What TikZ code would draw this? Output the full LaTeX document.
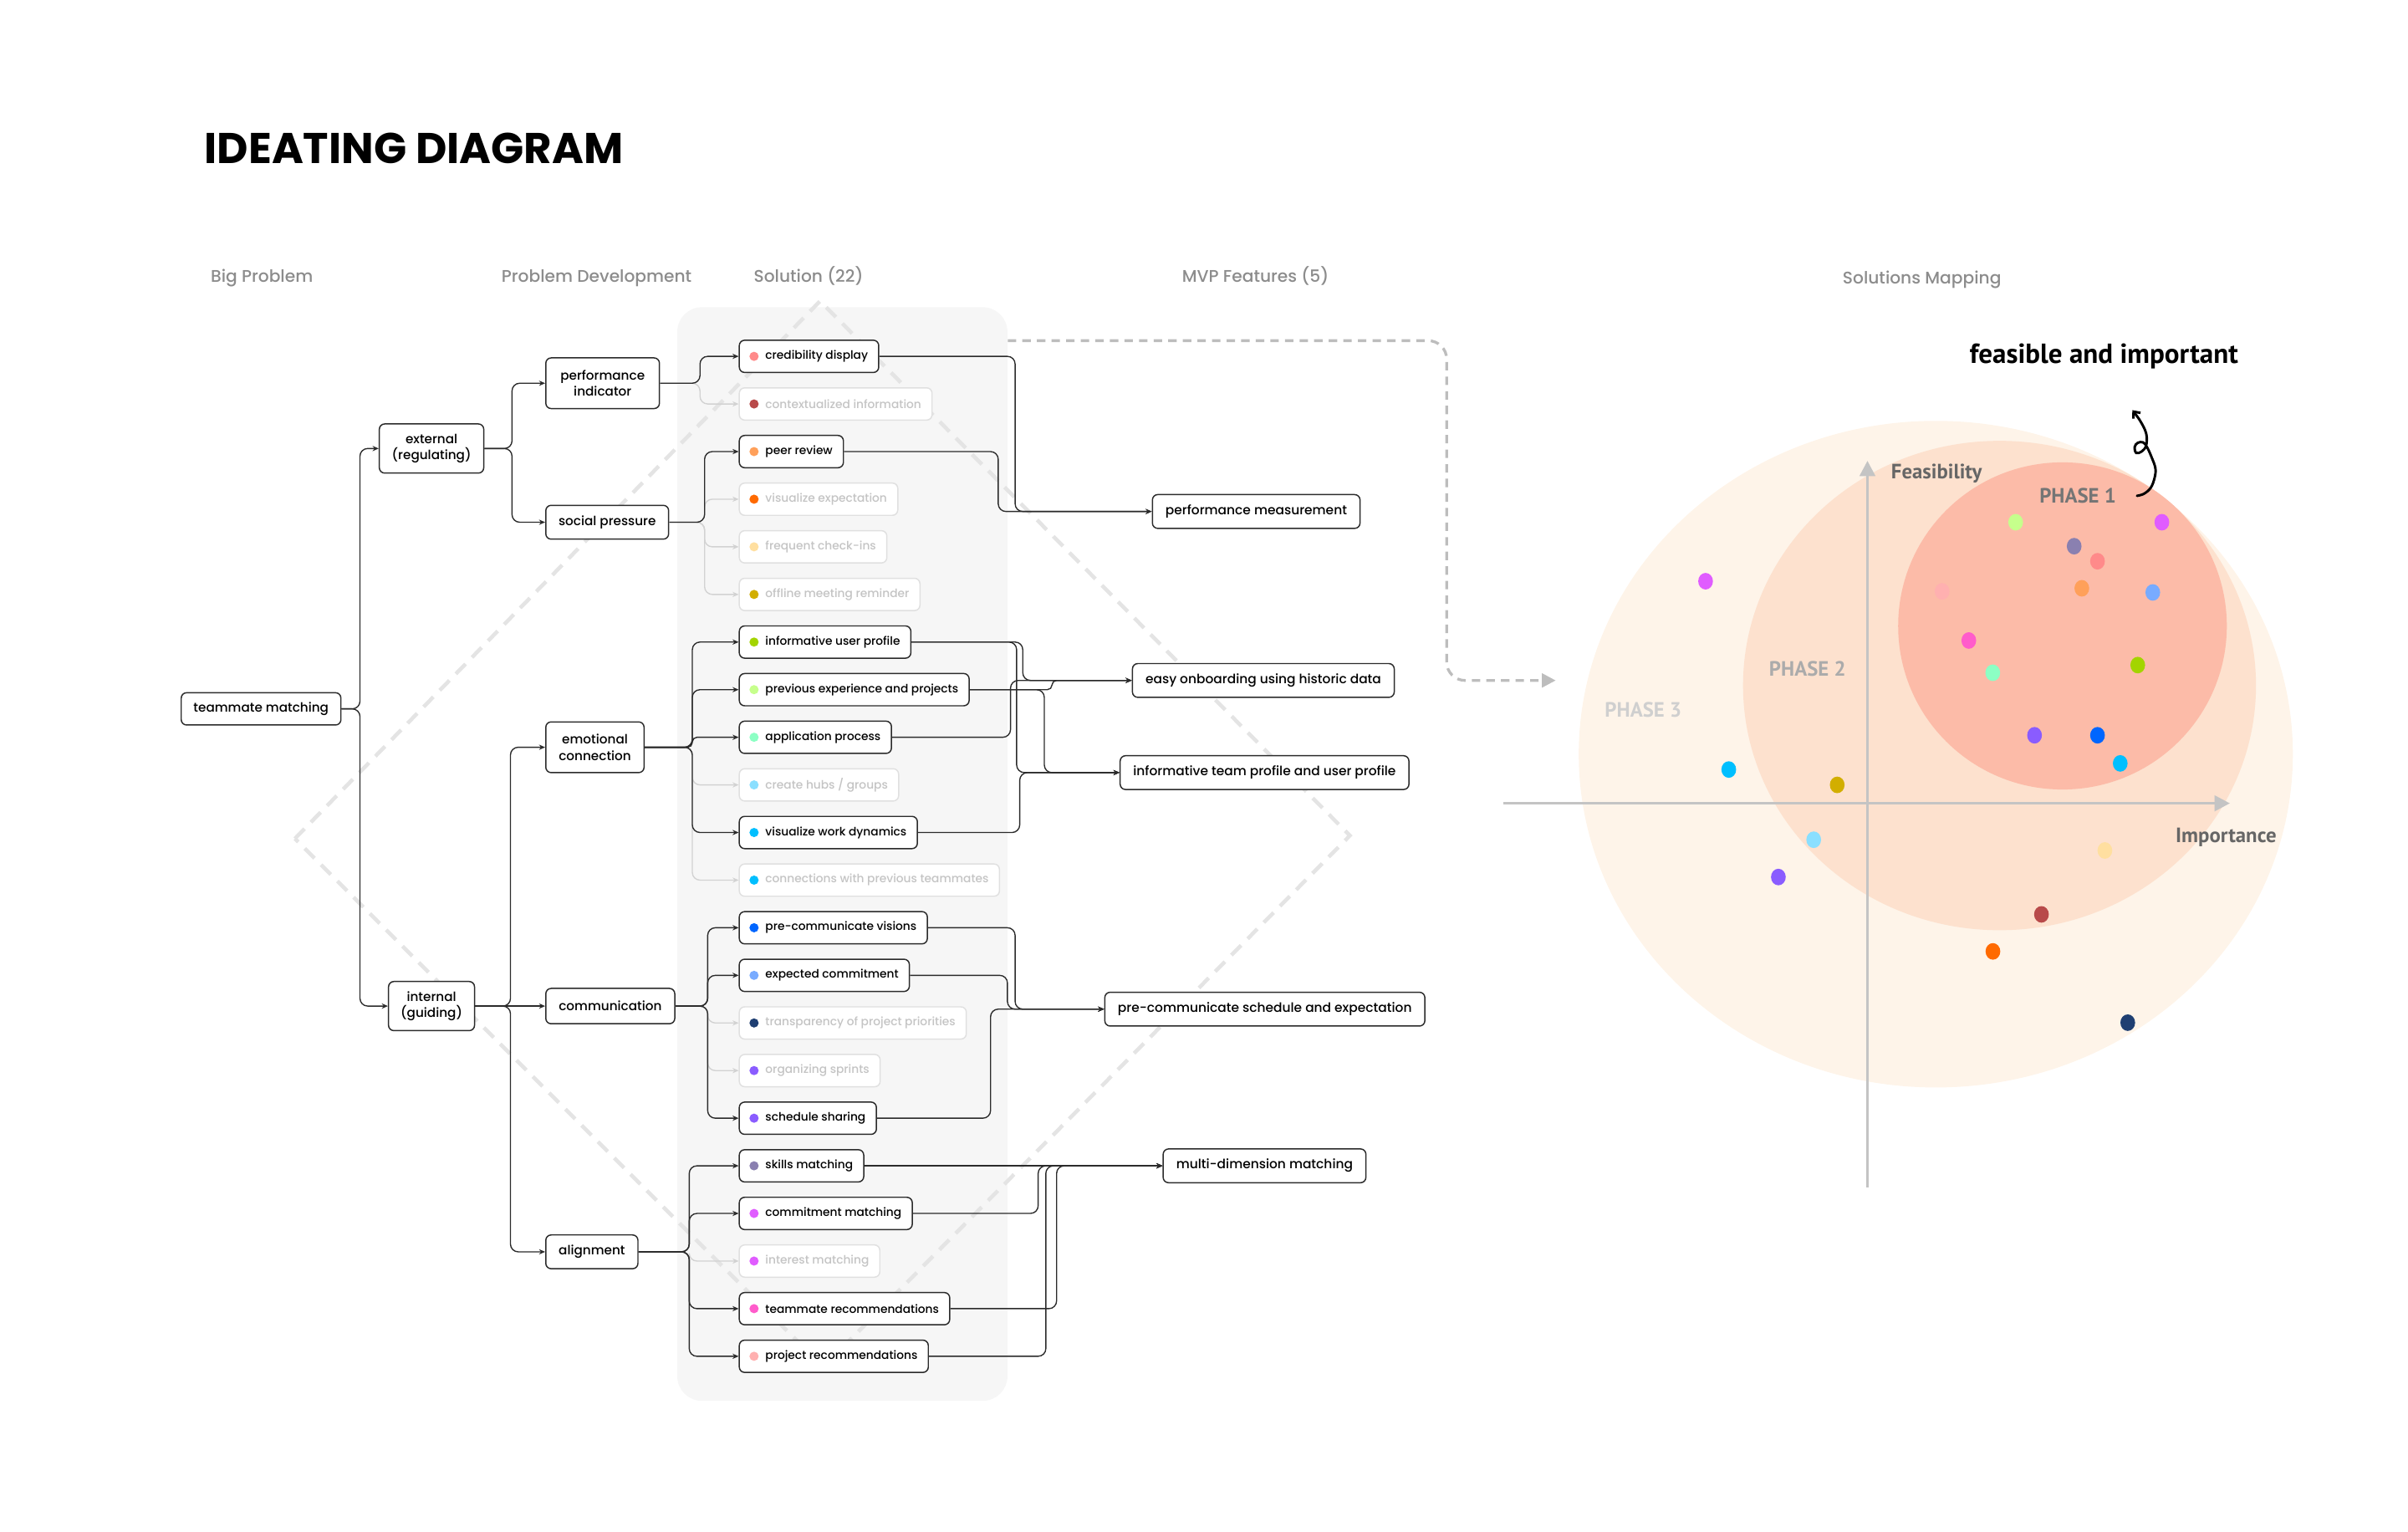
\documentclass[tikz,border=0pt]{standalone}
\usepackage{fontspec}
\setmainfont{Poppins}
\IfFontExistsTF{Poppins Medium}{\newfontfamily\boxfont{Poppins Medium}}{\newfontfamily\boxfont{Poppins}}
\newfontfamily\chartfont{PT Sans}
\usetikzlibrary{arrows.meta}
\definecolor{Ink}{HTML}{2B2B2B}
\definecolor{Head}{HTML}{8C8C8C}
\definecolor{Panel}{HTML}{F6F6F6}
\definecolor{Guide}{HTML}{E4E4E4}
\definecolor{FadeLine}{HTML}{E0E0E0}
\definecolor{FadeText}{HTML}{C4C4C4}
\definecolor{FadeLink}{HTML}{D2D2D2}
\definecolor{Flow}{HTML}{BDBDBD}
\definecolor{Axis}{HTML}{C4C4C4}
\definecolor{AxisText}{HTML}{666666}
\definecolor{PhaseOne}{HTML}{FCBBA8}
\definecolor{PhaseTwo}{HTML}{FDE1CE}
\definecolor{PhaseThree}{HTML}{FEF4E9}
% dot colours
\definecolor{Salmon}{HTML}{FF8A8A}
\definecolor{Brick}{HTML}{B84A4A}
\definecolor{Apricot}{HTML}{FFA05A}
\definecolor{Tangerine}{HTML}{FF6A00}
\definecolor{Cream}{HTML}{FFDFA0}
\definecolor{Mustard}{HTML}{D2AE00}
\definecolor{Lime}{HTML}{A3D400}
\definecolor{Pistachio}{HTML}{C6FF8C}
\definecolor{Mint}{HTML}{8CFFC4}
\definecolor{Sky}{HTML}{8ADFFF}
\definecolor{Cyan}{HTML}{00BFFF}
\definecolor{Azure}{HTML}{0066FF}
\definecolor{Cornflower}{HTML}{78ABFF}
\definecolor{Navy}{HTML}{1F3F72}
\definecolor{Violet}{HTML}{8A5CFF}
\definecolor{Slate}{HTML}{8A80B0}
\definecolor{Orchid}{HTML}{E05CFF}
\definecolor{HotPink}{HTML}{FF5CCB}
\definecolor{Blush}{HTML}{FFB0B0}

\begin{document}
\begin{tikzpicture}[x=1pt,y=-1pt,>={Stealth[length=4pt,width=3.4pt]},
    box/.style={draw=Ink,fill=white,line width=.8pt,rounded corners=3.5pt,inner xsep=4pt,inner ysep=2pt,align=center,font=\boxfont\fontsize{8.3}{10.5}\selectfont},
    sol/.style={box,anchor=west,minimum height=21pt,inner xsep=7pt,font=\boxfont\fontsize{7.5}{9}\selectfont},
    act/.style={draw=Ink,text=black},
    idle/.style={draw=FadeLine,text=FadeText},
    mvp/.style={box,anchor=west,minimum height=22pt,inner xsep=8.5pt,font=\boxfont\fontsize{8.4}{10}\selectfont},
    head/.style={anchor=base,text=Head,font=\boxfont\fontsize{11}{13}\selectfont},
    link/.style={->,draw=Ink,line width=.75pt,rounded corners=5pt},
    flow/.style={-{Triangle[length=9pt,width=9pt]},draw=Flow,line width=1.8pt,dash pattern=on 5.5pt off 4pt,rounded corners=12pt},
    axis/.style={-{Triangle[length=10pt,width=10pt]},draw=Axis,line width=2pt},
    chartlab/.style={inner sep=0pt,font=\chartfont\fontsize{13.5}{15}\selectfont\bfseries}]
  \useasboundingbox (0,0) rectangle (1568,997);

  % solution panel and guide diamond
  \node[fill=Panel,rounded corners=16pt,minimum width=215pt,minimum height=712pt,inner sep=0pt] (pan) at (548.5,556) {};
  \draw[Guide,line width=2.5pt,dash pattern=on 9pt off 6pt] (192,546) -- (534,196) -- (879,544) -- (536,890) -- cycle;

  % solutions mapping
  \fill[PhaseThree] (1260.5,491) ellipse [x radius=232.5pt,y radius=217pt];
  \fill[PhaseTwo] (1302,446.3) ellipse [x radius=167pt,y radius=159.3pt];
  \fill[PhaseOne] (1343,407.5) ellipse [x radius=107pt,y radius=106.5pt];
  \draw[axis] (1216,773) -- (1216,300);
  \draw[axis] (979,523) -- (1452,523);
  \node[chartlab,text=AxisText] (feas) at (1261,308) {Feasibility};
  \node[chartlab,text=AxisText] (impo) at (1449.5,545) {Importance};
  \node[chartlab,text=AxisText!90] (pone) at (1353,322.5) {PHASE 1};
  \node[chartlab,text=black!33] (ptwo) at (1177,435.5) {PHASE 2};
  \node[chartlab,text=black!19] (pthree) at (1070,462) {PHASE 3};
  \node[inner sep=0pt,font=\chartfont\fontsize{18}{20}\selectfont\bfseries] (goal) at (1370,232) {feasible and important};
  \draw[line width=1.6pt,line cap=round,-{Straight Barb[length=3.5pt,width=6pt]}] plot[smooth,tension=.6] coordinates {(1391.5,322.8) (1396,321.5) (1400.5,317.5) (1403,311) (1403.5,304.8) (1401,297.6) (1398.1,291.2) (1395.5,288) (1392,288.3) (1390,291) (1391,294.9) (1394.5,294) (1397.5,290) (1397.5,282.2) (1393.6,274) (1388.5,267)};
  \foreach \x/\y/\col in {1312.5/340/Pistachio,1407.7/340/Orchid,1350.6/355.6/Slate,1365.8/365.4/Salmon,
      1110.6/378.4/Orchid,1264.6/385/Blush,1355.6/383/Apricot,1401.8/385.7/Cornflower,1282/417/HotPink,
      1297.6/438/Mint,1392/433/Lime,1324.8/478.7/Violet,1365.8/478.7/Azure,1380.6/497/Cyan,1125.7/501/Cyan,
      1196.3/511/Mustard,1181/546.7/Sky,1158/571/Violet,1370.6/553.7/Cream,1329.3/595.3/Brick,
      1297.7/619.4/Tangerine,1385.5/665.8/Navy}
    \fill[\col] (\x,\y) ellipse [x radius=4.8pt,y radius=5.4pt];

  % title and column heads
  \node[anchor=west,inner sep=0pt,font=\fontsize{28}{30}\selectfont\bfseries] (title) at (133,96.5) {IDEATING DIAGRAM};
  \node[head] (hbig) at (170.5,184) {Big Problem};
  \node[head] (hdev) at (388.5,184) {Problem Development};
  \node[head] (hsol) at (526.5,184) {Solution (22)};
  \node[head] (hmvp) at (817.5,184) {MVP Features (5)};
  \node[head] (hmap) at (1251.5,185) {Solutions Mapping};

  % problem tree
  \node[box,minimum width=104pt,minimum height=21pt] (tm) at (170,461.5) {teammate matching};
  \node[box,minimum width=68pt,minimum height=32pt] (ext) at (281,292) {external\\(regulating)};
  \node[box,minimum width=56pt,minimum height=32pt] (int) at (281,655) {internal\\(guiding)};
  \node[box,anchor=west,minimum width=74pt,minimum height=33pt] (pi) at (355,249.5) {performance\\indicator};
  \node[box,anchor=west,minimum width=80pt,minimum height=22pt] (sp) at (355,340) {social pressure};
  \node[box,anchor=west,minimum width=64pt,minimum height=33pt] (ec) at (355,486.5) {emotional\\connection};
  \node[box,anchor=west,minimum width=84pt,minimum height=23pt] (cm) at (355,655) {communication};
  \node[box,anchor=west,minimum width=60pt,minimum height=22pt] (al) at (355,815) {alignment};

  % solutions
  \foreach \i/\col/\lab/\st in {
      1/Salmon/credibility display/act,
      2/Brick/contextualized information/idle,
      3/Apricot/peer review/act,
      4/Tangerine/visualize expectation/idle,
      5/Cream/frequent check-ins/idle,
      6/Mustard/offline meeting reminder/idle,
      7/Lime/informative user profile/act,
      8/Pistachio/previous experience and projects/act,
      9/Mint/application process/act,
      10/Sky/{create hubs / groups}/idle,
      11/Cyan/visualize work dynamics/act,
      12/Cyan/connections with previous teammates/idle,
      13/Azure/pre-communicate visions/act,
      14/Cornflower/expected commitment/act,
      15/Navy/transparency of project priorities/idle,
      16/Violet/organizing sprints/idle,
      17/Violet/schedule sharing/act,
      18/Slate/skills matching/act,
      19/Orchid/commitment matching/act,
      20/Orchid/interest matching/idle,
      21/HotPink/teammate recommendations/act,
      22/Blush/project recommendations/act}{
    \pgfmathsetmacro\yy{201+31*\i}
    \node[sol,\st] (s\i) at (481,\yy) {\hspace*{10pt}\lab};
    \fill[\col] ([xshift=10pt]s\i.west) circle (3pt);
  }

  % mvp features
  \node[mvp] (pm) at (750,333) {performance measurement};
  \node[mvp] (eo) at (737,443) {easy onboarding using historic data};
  \node[mvp] (it) at (729,503) {informative team profile and user profile};
  \node[mvp] (ps) at (719,657) {pre-communicate schedule and expectation};
  \node[mvp] (md) at (757,759) {multi-dimension matching};

  % tree links
  \draw[link] (tm.east) -- ++(12,0) |- (ext.west);
  \draw[link] (tm.east) -- ++(12,0) |- (int.west);
  \draw[link] (ext.east) -- ++(18,0) |- (pi.west);
  \draw[link] (ext.east) -- ++(18,0) |- (sp.west);
  \draw[link] (int.east) -- ++(23,0) |- (ec.west);
  \draw[link] (int.east) -- (cm.west);
  \draw[link] (int.east) -- ++(23,0) |- (al.west);

  % problem -> solution links
  \foreach \p/\k/\w in {pi/2/26,sp/4/23,sp/5/23,sp/6/23,ec/10/31,ec/12/31,cm/15/21,cm/16/21,al/20/33}
    \draw[link,FadeLink] (\p.east) -- ++(\w,0) |- (s\k.west);
  \foreach \p/\k/\w in {pi/1/26,sp/3/23,ec/7/31,ec/8/31,ec/11/31,cm/13/21,cm/14/21,cm/17/21,al/18/33,al/19/33,al/21/33,al/22/33}
    \draw[link] (\p.east) -- ++(\w,0) |- (s\k.west);
  \draw[link,rounded corners=3pt] (ec.east) -- ++(31,0) |- (s9.west);

  % solution -> mvp links
  \draw[link] (s1.east) -| ([xshift=-89pt]pm.west) -- (pm.west);
  \draw[link] (s3.east) -| ([xshift=-100pt]pm.west) -- (pm.west);
  \draw[link] (s7.east) -| ([xshift=-71pt]eo.west) -- (eo.west);
  \draw[link,rounded corners=3pt] (s8.east) -| ([xshift=-52pt]eo.west) -- (eo.west);
  \draw[link] (s9.east) -| ([xshift=-79pt]eo.west) -- (eo.west);
  \draw[link] (s7.east) -| ([xshift=-67pt]it.west) -- (it.west);
  \draw[link] (s8.east) -| ([xshift=-49pt]it.west) -- (it.west);
  \draw[link] (s11.east) -| ([xshift=-65pt]it.west) -- (it.west);
  \draw[link] (s13.east) -| ([xshift=-58pt]ps.west) -- (ps.west);
  \draw[link] (s14.east) -| ([xshift=-63pt]ps.west) -- (ps.west);
  \draw[link] (s17.east) -| ([xshift=-74pt]ps.west) -- (ps.west);
  \draw[link] (s18.east) -- (md.west);
  \draw[link] (s19.east) -| ([xshift=-81pt]md.west) -- (md.west);
  \draw[link] (s21.east) -| ([xshift=-69pt]md.west) -- (md.west);
  \draw[link] (s22.east) -| ([xshift=-76pt]md.west) -- (md.west);

  % panel -> mapping
  \coordinate (mapin) at (1013,443);
  \draw[flow] ([yshift=-22pt]pan.north east) -| ([xshift=-71pt]mapin) -- (mapin);
\end{tikzpicture}
\end{document}
